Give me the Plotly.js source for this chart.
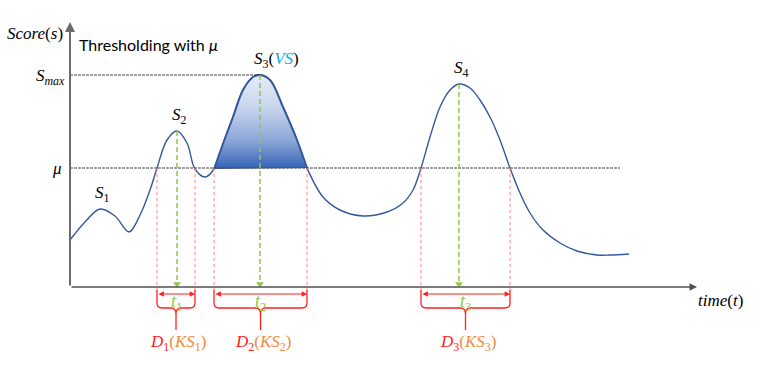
<!DOCTYPE html>
<html>
<head>
<meta charset="utf-8">
<script src="https://cdn.plot.ly/plotly-3.0.1.min.js"></script>
<style>body{margin:0;background:#fff}</style>
</head>
<body>
<div id="graph" style="width:761px;height:371px"></div>
<script>
// score curve (time, score)
const curveT = [0, 15, 30, 45, 59, 70, 80, 87, 97, 107, 117, 125, 135, 144, 154, 163, 173, 183, 190, 200, 213, 227, 237, 253, 270, 293, 317, 333, 343, 351, 360, 370, 380, 389, 400, 410, 420, 430, 440, 450, 460, 473, 490, 507, 527, 540, 559]
const curveS = [47, 65, 78, 71, 55, 72, 97, 119, 147, 156, 144, 118, 110, 118, 146, 170, 197, 210, 212, 207, 180, 147, 119, 90, 77, 71, 75, 84, 97, 119, 150, 180, 197, 203, 199, 187, 170, 147, 119, 94, 74, 57, 44, 36, 32, 32, 33]

const mu = 119
const sMax = 212
const muLineEnd = 550
const axisEndT = 627
const axisEndS = 265

const peakNames = ['S<sub>1</sub>', 'S<sub>2</sub>', 'S<sub>3</sub>', 'S<sub>4</sub>']
const peakT = [30, 107, 190, 389]
const peakS = [78, 156, 212, 203]

// segments above mu : [start, end]
const segStart = [87, 144, 351]
const segEnd = [125, 237, 440]
const segPeak = [107, 190, 389]
const segNames = ['1', '2', '3']

const blue = '#34589c'
const green = '#8cc84b'
const red = '#ff2020'
const orange = '#f08a3c'
const mathFont = {family: 'Liberation Serif', size: 17, color: '#000'}

const traces = [
    {
        x: curveT, y: curveS,
        mode: 'lines', line: {color: blue, width: 1.4, shape: 'spline', smoothing: 1},
        hoverinfo: 'skip'
    }
]

// shaded peak (the selected one)
const fillT = curveT.filter(t => t >= segStart[1] && t <= segEnd[1])
const fillS = curveS.filter((s, i) => curveT[i] >= segStart[1] && curveT[i] <= segEnd[1])
traces.push({
    x: fillT, y: fillS,
    mode: 'lines', fill: 'toself',
    line: {color: blue, width: 2, shape: 'spline', smoothing: 1},
    fillgradient: {
        type: 'vertical',
        colorscale: [[0, '#3461b6'], [0.3, '#8ba6d8'], [0.65, '#c6d4ed'], [1, '#e6edf8']]
    },
    hoverinfo: 'skip'
})

// green arrow heads on the time axis
traces.push({
    x: segPeak, y: segPeak.map(() => 3),
    mode: 'markers',
    marker: {symbol: 'triangle-down', size: 7, color: green},
    hoverinfo: 'skip'
})

const shapes = [
    {type: 'line', x0: 0, x1: peakT[2], y0: sMax, y1: sMax, line: {color: '#404040', width: 1, dash: '3px,1px'}},
    {type: 'line', x0: 0, x1: muLineEnd, y0: mu, y1: mu, line: {color: '#404040', width: 1, dash: '3px,1px'}}
]

segStart.concat(segEnd).forEach(t => {
    shapes.push({type: 'line', x0: t, x1: t, y0: mu, y1: -7, line: {color: '#ff8080', width: 1, dash: 'dot'}})
})

segPeak.forEach((t, i) => {
    shapes.push({type: 'line', x0: t, x1: t, y0: peakS[i + 1], y1: 4, line: {color: green, width: 1.5, dash: '5px,3px'}})
})

function brace(x0, x1) {
    const xc = (x0 + x1) / 2
    return `M ${x0},-3 L ${x0},-16 Q ${x0},-21 ${x0 + 5},-21 L ${xc - 5},-21 Q ${xc},-21 ${xc},-27 L ${xc},-43 ` +
        `M ${xc},-27 Q ${xc},-21 ${xc + 5},-21 L ${x1 - 5},-21 Q ${x1},-21 ${x1},-16 L ${x1},-3`
}
segStart.forEach((t, i) => {
    shapes.push({type: 'path', path: brace(t, segEnd[i]), line: {color: red, width: 1.3}})
})

const annotations = [
    // axes
    {x: axisEndT, y: 0, ax: 0, ay: 0, axref: 'x', ayref: 'y', text: '', showarrow: true,
        arrowhead: 2, arrowsize: 1, arrowwidth: 1.5, arrowcolor: '#505050'},
    {x: 0, y: axisEndS, ax: 0, ay: 0, axref: 'x', ayref: 'y', text: '', showarrow: true,
        arrowhead: 2, arrowsize: 1, arrowwidth: 2, arrowcolor: '#6a6a6a'},
    {x: -35, y: 254, text: '<i>Score</i>(<i>s</i>)', showarrow: false, font: mathFont},
    {x: 7, y: 243, xanchor: 'left', text: 'Thresholding with <i>μ</i>', showarrow: false,
        font: {family: 'Lato', size: 16, color: '#000'}},
    {x: -3, y: sMax, xanchor: 'right', yanchor: 'middle', yshift: -2, text: '<i>S</i><sub><i>max</i></sub>', showarrow: false, font: mathFont},
    {x: -13, y: mu, text: '<i>μ</i>', showarrow: false, font: mathFont},
    {x: 650, y: -13, text: '<i>time</i>(<i>t</i>)', showarrow: false, font: mathFont}
]

peakNames.forEach((name, i) => {
    let txt = '<i>' + name.replace('<sub>', '</i><sub>')
    let xs = 2
    if (i === 2) {
        txt += '(<i><span style="color:#00b0f0">VS</span></i>)'
        xs = 16
    }
    annotations.push({x: peakT[i], y: peakS[i], yanchor: 'bottom', yshift: 2, xshift: xs,
        text: txt, showarrow: false, font: mathFont})
})

segStart.forEach((t, i) => {
    const xc = (t + segEnd[i]) / 2
    annotations.push({x: segEnd[i], y: -7, ax: t, ay: -7, axref: 'x', ayref: 'y', text: '', showarrow: true,
        arrowhead: 2, arrowside: 'end+start', arrowsize: 0.9, arrowwidth: 1.2, arrowcolor: red})
    annotations.push({x: xc, y: -15, text: '<i>t</i><sub>' + segNames[i] + '</sub>', showarrow: false,
        font: {family: 'Liberation Serif', size: 18, color: green}})
    annotations.push({x: xc + 2, y: -56, showarrow: false, font: mathFont,
        text: '<span style="color:' + red + '"><i>D</i><sub>' + segNames[i] + '</sub></span>' +
            '<span style="color:' + orange + '">(<i>KS</i><sub>' + segNames[i] + '</sub>)</span>'})
})

const layout = {
    width: 761, height: 371,
    margin: {l: 0, r: 0, t: 0, b: 0},
    paper_bgcolor: '#fff', plot_bgcolor: '#fff',
    showlegend: false,
    xaxis: {range: [-70, 691], visible: false, fixedrange: true},
    yaxis: {range: [-84, 287], visible: false, fixedrange: true},
    shapes: shapes,
    annotations: annotations
}

Plotly.newPlot('graph', traces, layout, {displayModeBar: false, staticPlot: true})
</script>
</body>
</html>
